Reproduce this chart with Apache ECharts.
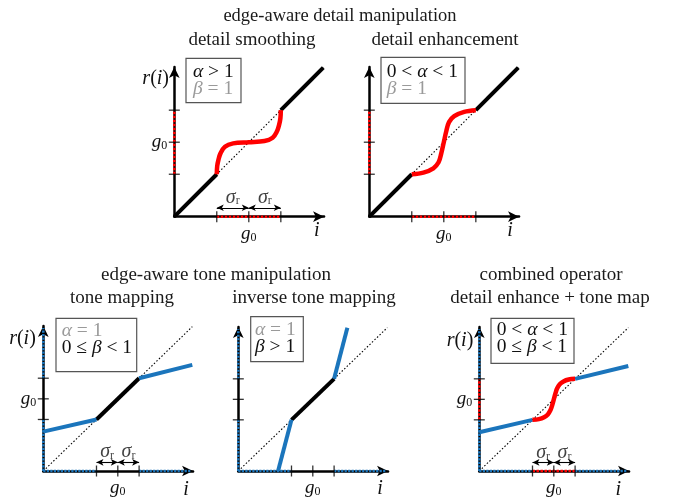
<!DOCTYPE html>
<html><head><meta charset="utf-8">
<script src="https://cdn.jsdelivr.net/npm/echarts@6/dist/echarts.min.js"></script>
<style>html,body{margin:0;padding:0;background:#fff}#c{width:674px;height:498px}</style>
</head><body><div id="c"></div>
<script>
// ---------- data (units: diagonal runs 0..100, g0 = 50) ----------
const G0 = 50;
const tickTop = [28.5, 50, 71.5];          // g0 - sigma, g0, g0 + sigma (top panels)
const tickBot = [35.7, 50, 64.3];          // bottom panels
const diagX = [0, 100];
const diagY = [0, 100];
// detail smoothing (alpha > 1)
const smoothX = [28.5, 28.8, 29.7, 31.0, 34.0, 39.5, 50.0, 60.5, 66.0, 69.0, 70.3, 71.2, 71.5];
const smoothY = [28.5, 34.0, 38.5, 42.5, 47.0, 49.2, 50.0, 50.8, 53.0, 57.5, 61.5, 66.0, 71.5];
// detail enhancement (0 < alpha < 1)
const enhX = [28.5, 36.3, 43.0, 46.5, 48.3, 50.0, 51.7, 53.5, 57.0, 63.7, 71.5];
const enhY = [28.5, 29.6, 32.5, 36.5, 42.5, 50.0, 57.5, 63.5, 67.5, 70.4, 71.5];
// tone mapping (0 <= beta < 1)
const tmLowX = [0, 35.7],   tmLowY = [27.3, 35.7];
const tmHighX = [64.3, 100], tmHighY = [64.3, 73.5];
// inverse tone mapping (beta > 1)
const itmLowX = [26.7, 35.7], itmLowY = [0, 35.7];
const itmHighX = [64.3, 73.2], itmHighY = [64.3, 100];
// combined operator
const combLowX = [0, 35.7],   combLowY = [27.0, 35.7];
const combHighX = [64.3, 100], combHighY = [64.3, 73.3];
const combX = [35.7, 40.0, 43.5, 46.0, 47.8, 48.8, 50.0, 51.2, 52.2, 54.0, 56.5, 60.0, 64.3];
const combY = [35.7, 36.2, 37.5, 39.5, 42.5, 45.5, 50.0, 54.5, 57.5, 60.5, 62.5, 63.8, 64.3];
// texts
const titles = ['edge-aware detail manipulation', 'detail smoothing', 'detail enhancement',
  'edge-aware tone manipulation', 'tone mapping', 'inverse tone mapping',
  'combined operator', 'detail enhance + tone map'];

// ---------- rendering ----------
const SERIF = "'Liberation Serif', 'DejaVu Serif', serif";
const RED = '#ff0000', BLUE = '#1b75bc', GRAY = '#9a9a9a', INK = '#111';
const S = 1.49, AX = 100.5, AW = AX * S;
const zip = (xs, ys) => xs.map((x, i) => [x, ys[i]]);

const panels = [
  {o: [174.3, 216.7], ticks: tickTop, yg0: true,  mode: 'red',  arrows: true},
  {o: [369.3, 216.7], ticks: tickTop, yg0: false, mode: 'red',  arrows: false},
  {o: [43.3, 475.7],  ticks: tickBot, yg0: true,  mode: 'blue', arrows: true},
  {o: [238.3, 476.7], ticks: tickBot, yg0: false, mode: 'blue', arrows: false},
  {o: [479.3, 476.7], ticks: tickBot, yg0: true,  mode: 'both', arrows: true}
];

const gRich = {
  g: {fontFamily: SERIF, fontStyle: 'italic', fontSize: 19, color: INK, lineHeight: 20},
  s: {fontFamily: SERIF, fontSize: 12, color: INK, lineHeight: 10, verticalAlign: 'bottom'}
};
const axLine = {show: true, onZero: true, symbol: ['none', 'arrow'], symbolSize: [8, 11],
  lineStyle: {color: '#000', width: 2.5}};

const grids = [], xAxes = [], yAxes = [], series = [];
function line(gi, data, color, width, extra) {
  series.push(Object.assign({type: 'line', xAxisIndex: gi, yAxisIndex: gi, data: data,
    symbol: 'none', clip: false, silent: true, animation: false,
    lineStyle: {color: color, width: width}}, extra || {}));
}

panels.forEach((p, gi) => {
  grids.push({left: p.o[0], top: p.o[1] - AW, width: AW, height: AW});
  xAxes.push({type: 'value', gridIndex: gi, min: 0, max: AX, splitLine: {show: false},
    axisTick: {show: false}, axisLine: axLine,
    axisLabel: {show: true, customValues: [G0], margin: 7, formatter: () => '{g|g}{s|0}', rich: gRich}});
  yAxes.push({type: 'value', gridIndex: gi, min: 0, max: AX, splitLine: {show: false},
    axisTick: {show: false}, axisLine: axLine,
    axisLabel: {show: p.yg0, customValues: [G0], margin: 7, formatter: () => '{g|g}{s|0}', rich: gRich}});

  const t = p.ticks;
  // dotted identity line
  line(gi, zip(diagX, diagY), '#000', 1.1, {lineStyle: {color: '#000', width: 1.1, type: [1.5, 2]}});
  // coloured axis overlays
  const dashRed = {color: RED, width: 2.6, type: [2.5, 1.5]};
  const dashBlue = {color: BLUE, width: 2.6, type: [2.2, 1.3]};
  if (p.mode === 'red' || p.mode === 'both') {
    line(gi, [[t[0], 0], [t[2], 0]], RED, 2.6, {lineStyle: dashRed});
    line(gi, [[0, t[0]], [0, t[2]]], RED, 2.6, {lineStyle: dashRed});
  }
  if (p.mode === 'blue' || p.mode === 'both') {
    line(gi, [[0, 0], [t[0], 0]], BLUE, 2.6, {lineStyle: dashBlue});
    line(gi, [[t[2], 0], [99, 0]], BLUE, 2.6, {lineStyle: dashBlue});
    line(gi, [[0, 0], [0, t[0]]], BLUE, 2.6, {lineStyle: dashBlue});
    line(gi, [[0, t[2]], [0, 99]], BLUE, 2.6, {lineStyle: dashBlue});
  }
  // tick marks crossing the axes
  series.push({type: 'scatter', xAxisIndex: gi, yAxisIndex: gi, symbol: 'rect', symbolSize: [1.3, 11],
    data: t.map(v => [v, 0]), itemStyle: {color: '#000'}, clip: false, silent: true, animation: false, z: 4});
  series.push({type: 'scatter', xAxisIndex: gi, yAxisIndex: gi, symbol: 'rect', symbolSize: [11, 1.3],
    data: t.map(v => [0, v]), itemStyle: {color: '#000'}, clip: false, silent: true, animation: false, z: 4});
  // sigma_r double arrows
  if (p.arrows) {
    const ay = 6, ly = 13;
    series.push({type: 'scatter', xAxisIndex: gi, yAxisIndex: gi, symbolSize: 1,
      itemStyle: {color: 'rgba(0,0,0,0)'}, clip: false, silent: true, animation: false,
      data: [[(t[0] + t[1]) / 2, ly], [(t[1] + t[2]) / 2, ly]],
      label: {show: true, position: 'inside', fontSize: 20, fontFamily: SERIF, formatter: () => '{a|σ}{b|r}',
        rich: {a: {fontFamily: SERIF, fontStyle: 'italic', fontSize: 20, color: INK, lineHeight: 20},
               b: {fontFamily: SERIF, fontSize: 12, color: INK, lineHeight: 9, verticalAlign: 'bottom'}}},
      markLine: {symbol: ['arrow', 'arrow'], symbolSize: [5, 7], silent: true, animation: false,
        label: {show: false}, lineStyle: {color: '#000', width: 1.1, type: 'solid'},
        data: [[{coord: [t[0], ay]}, {coord: [t[1], ay]}], [{coord: [t[1], ay]}, {coord: [t[2], ay]}]]}});
  }
});

// black identity segments
line(0, zip([0, tickTop[0]], [0, tickTop[0]]), '#000', 4);
line(0, zip([tickTop[2], 100], [tickTop[2], 100]), '#000', 4);
line(1, zip([0, tickTop[0]], [0, tickTop[0]]), '#000', 4);
line(1, zip([tickTop[2], 100], [tickTop[2], 100]), '#000', 4);
line(2, zip([tickBot[0], tickBot[2]], [tickBot[0], tickBot[2]]), '#000', 4);
line(3, zip([tickBot[0], tickBot[2]], [tickBot[0], tickBot[2]]), '#000', 4);
// curves
line(0, zip(smoothX, smoothY), RED, 4.5, {smooth: 0.35});
line(1, zip(enhX, enhY), RED, 4.5, {smooth: 0.35});
line(2, zip(tmLowX, tmLowY), BLUE, 4);
line(2, zip(tmHighX, tmHighY), BLUE, 4);
line(3, zip(itmLowX, itmLowY), BLUE, 4);
line(3, zip(itmHighX, itmHighY), BLUE, 4);
line(4, zip(combLowX, combLowY), BLUE, 4);
line(4, zip(combHighX, combHighY), BLUE, 4);
line(4, zip(combX, combY), RED, 4.5, {smooth: 0.35});

// ---------- text ----------
const graphic = [];
function txt(x, y, text, opt) {
  graphic.push({type: 'text', z: 20, silent: true, style: Object.assign({
    text: text, x: x, y: y, fontFamily: SERIF, fontSize: 19, fill: '#1a1a1a',
    align: 'center', verticalAlign: 'middle', textAlign: 'center', textVerticalAlign: 'middle'}, opt || {})});
}
const titlePos = [[340, 16], [252, 40], [445, 40], [216, 275], [122, 298.5], [314, 298.5], [551, 275], [550, 298.5]];
titles.forEach((s, i) => txt(titlePos[i][0], titlePos[i][1], s, i === 0 ? {fontSize: 18.5} : {}));

const riRich = {it: {fontFamily: SERIF, fontStyle: 'italic', fontSize: 20, fill: INK, color: INK},
                n: {fontFamily: SERIF, fontSize: 20, fill: INK, color: INK}};
[[155.7, 79], [22.5, 339], [460, 340.7]].forEach(p => txt(p[0], p[1], '{it|r}{n|(}{it|i}{n|)}', {rich: riRich}));
[[316.7, 231], [510, 231], [186, 490], [380, 489], [618.3, 490]].forEach(p =>
  txt(p[0], p[1], 'i', {fontStyle: 'italic', fontSize: 20, fill: INK}));

// parameter boxes
const bx = (c) => ({
  n: {fontFamily: SERIF, fontSize: 19.5, color: c, fill: c, lineHeight: 17},
  it: {fontFamily: SERIF, fontStyle: 'italic', fontSize: 19.5, color: c, fill: c, lineHeight: 17}
});
const boxRich = {};
Object.entries(bx(INK)).forEach(([k, v]) => boxRich[k] = v);
Object.entries(bx(GRAY)).forEach(([k, v]) => boxRich['g' + k] = v);
const boxes = [
  {r: [186, 58.3, 55, 44.4], tx: 193, ty: 80, t: '{it|α}{n| > 1}\n{git|β}{gn| = 1}'},
  {r: [381, 57.3, 84, 46], tx: 386.7, ty: 80, t: '{n|0 < }{it|α}{n| < 1}\n{git|β}{gn| = 1}'},
  {r: [56, 318.3, 80.7, 53.4], tx: 61.7, ty: 339.7, t: '{git|α}{gn| = 1}\n{n|0 ≤ }{it|β}{n| < 1}'},
  {r: [250.7, 316.7, 52.6, 45], tx: 255, ty: 338.5, t: '{git|α}{gn| = 1}\n{it|β}{n| > 1}'},
  {r: [491, 318.3, 83, 45], tx: 496.7, ty: 338.7, t: '{n|0 < }{it|α}{n| < 1}\n{n|0 ≤ }{it|β}{n| < 1}'}
];
boxes.forEach(b => {
  graphic.push({type: 'rect', z: 15, silent: true, shape: {x: b.r[0], y: b.r[1], width: b.r[2], height: b.r[3]},
    style: {fill: '#fff', stroke: '#555', lineWidth: 1.2}});
  txt(b.tx, b.ty, b.t, {rich: boxRich, align: 'left', textAlign: 'left'});
});

const chart = echarts.init(document.getElementById('c'), null, {renderer: 'canvas'});
chart.setOption({
  animation: false, backgroundColor: '#fff',
  grid: grids, xAxis: xAxes, yAxis: yAxes, series: series, graphic: graphic
});
</script></body></html>
